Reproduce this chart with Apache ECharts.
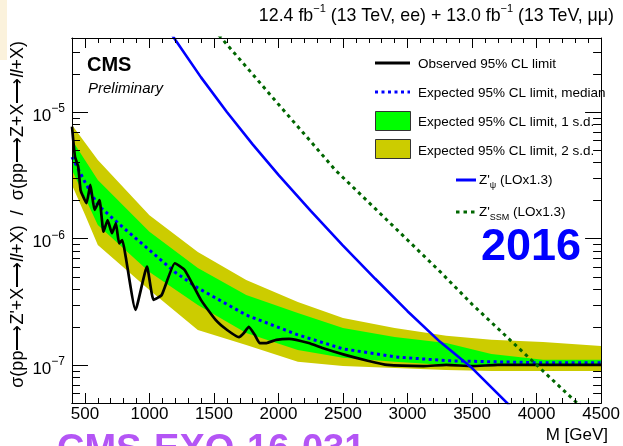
<!DOCTYPE html>
<html>
<head>
<meta charset="utf-8">
<script src="https://cdn.jsdelivr.net/npm/echarts@6/dist/echarts.min.js"></script>
<style>
  html, body { margin: 0; padding: 0; background: #ffffff; }
  #chart { width: 623px; height: 446px; }
</style>
</head>
<body>
<div id="chart"></div>
<script>
// Mass points (GeV) of the expected-limit bands
const bandMass  = [400, 500, 600, 1000, 1375, 1750, 2150, 2500, 2900, 3300, 3650, 4050, 4500];
const band2Up   = [7.89e-6, 5.74e-6, 4.17e-6, 1.53e-6, 7.82e-7, 4.70e-7, 3.15e-7, 2.35e-7, 1.96e-7, 1.70e-7, 1.58e-7, 1.52e-7, 1.41e-7];
const band1Up   = [6.01e-6, 4.17e-6, 2.90e-6, 1.13e-6, 5.85e-7, 3.57e-7, 2.58e-7, 1.96e-7, 1.66e-7, 1.49e-7, 1.22e-7, 1.10e-7, 1.10e-7];
const band1Down = [3.48e-6, 2.11e-6, 1.28e-6, 5.43e-7, 2.98e-7, 1.79e-7, 1.31e-7, 1.14e-7, 1.06e-7, 1.00e-7, 9.82e-8, 9.82e-8, 9.82e-8];
const band2Down = [2.65e-6, 1.55e-6, 8.88e-7, 3.92e-7, 1.89e-7, 1.44e-7, 1.06e-7, 9.82e-8, 9.47e-8, 9.13e-8, 8.97e-8, 8.97e-8, 8.97e-8];

// Expected (median) limit
const expMass   = [400, 500, 600, 800, 1000, 1200, 1375, 1750, 2150, 2500, 2900, 3300, 3650, 4050, 4500];
const expMedian = [4.41e-6, 2.80e-6, 1.84e-6, 1.21e-6, 8.11e-7, 5.40e-7, 4.06e-7, 2.48e-7, 1.73e-7, 1.34e-7, 1.16e-7, 1.08e-7, 1.06e-7, 1.04e-7, 1.04e-7];

// Observed limit
const obsMass  = [400, 423, 448, 466, 481, 512, 542, 575, 613, 644, 676, 710, 740, 765, 790, 816, 892, 981, 1032, 1095,
                  1197, 1273, 1399, 1513, 1602, 1694, 1732, 1770, 1816, 1854, 1907, 1983, 2082, 2234, 2341, 2516, 2691,
                  2843, 3124, 3300, 3500, 3700, 4000, 4250, 4500];
const obsLimit = [7.65e-6, 4.44e-6, 3.70e-6, 2.42e-6, 2.21e-6, 1.90e-6, 2.65e-6, 1.68e-6, 2.01e-6, 1.13e-6, 1.40e-6, 1.10e-6,
                  1.32e-6, 9.16e-7, 9.72e-7, 7.18e-7, 2.72e-7, 5.98e-7, 3.27e-7, 3.57e-7, 6.37e-7, 5.64e-7, 3.27e-7,
                  2.27e-7, 1.89e-7, 1.66e-7, 1.79e-7, 2.00e-7, 1.73e-7, 1.49e-7, 1.49e-7, 1.58e-7, 1.61e-7, 1.49e-7,
                  1.36e-7, 1.20e-7, 1.08e-7, 1.00e-7, 9.8e-8, 1.0e-7, 9.8e-8, 1.0e-7, 1.0e-7, 1.0e-7, 1.0e-7];

// Theory predictions (LO x 1.3)
const psiMass  = [1100, 1200, 1400, 1600, 1800, 2000, 2250, 2500, 2750, 3000, 3250, 3500, 3800];
const psiXsec  = [5.33e-5, 3.73e-5, 1.88e-5, 1.00e-5, 5.55e-6, 3.18e-6, 1.65e-6, 8.79e-7, 4.80e-7, 2.66e-7, 1.53e-7, 9.44e-8, 4.68e-8];
const ssmMass  = [1500, 1750, 2000, 2250, 2440, 2750, 3000, 3250, 3500, 3750, 4000, 4289, 4400];
const ssmXsec  = [4.49e-5, 2.28e-5, 1.15e-5, 5.85e-6, 3.48e-6, 1.72e-6, 9.73e-7, 5.50e-7, 3.02e-7, 1.74e-7, 1.00e-7, 5.28e-8, 4.13e-8];

// Axis ranges and ticks
const xMin = 400, xMax = 4500;
const yMin = 5.0e-8, yMax = 3.85e-5;
const xMajorTicks = [500, 1000, 1500, 2000, 2500, 3000, 3500, 4000, 4500];
const xMinorTicks = [];
for (let m = 500; m <= 4500; m += 100) xMinorTicks.push(m);
const yMinorTicks = [6e-8, 7e-8, 8e-8, 9e-8,
                     2e-7, 3e-7, 4e-7, 5e-7, 6e-7, 7e-7, 8e-7, 9e-7,
                     2e-6, 3e-6, 4e-6, 5e-6, 6e-6, 7e-6, 8e-6, 9e-6,
                     2e-5, 3e-5];

const FONT = 'Liberation Sans, Arial, Helvetica, sans-serif';
const YELLOW = '#cccc00';
const GREEN = '#00ff00';

const zip = (xs, ys) => xs.map((x, i) => [x, ys[i]]);

function bandSeries(upper, lower, color, z) {
  return {
    type: 'custom', z: z, silent: true,
    xAxisIndex: 0, yAxisIndex: 0,
    data: [[bandMass[0], upper[0]]],
    renderItem: function (params, api) {
      if (params.dataIndex !== 0) return null;
      const pts = [];
      for (let i = 0; i < bandMass.length; i++) pts.push(api.coord([bandMass[i], upper[i]]));
      for (let i = bandMass.length - 1; i >= 0; i--) pts.push(api.coord([bandMass[i], lower[i]]));
      return { type: 'polygon', shape: { points: pts }, style: { fill: color, stroke: null } };
    }
  };
}

function xAxisDef(position, ticks, len, withLabels) {
  return {
    type: 'value', position: position, min: xMin, max: xMax, z: 10,
    splitLine: { show: false },
    axisLine: { show: true, lineStyle: { color: '#000', width: 1 } },
    axisTick: { show: true, inside: true, length: len, customValues: ticks, lineStyle: { color: '#000', width: 1 } },
    axisLabel: withLabels ? {
      show: true, customValues: xMajorTicks, margin: 3, color: '#000',
      fontSize: 17, fontFamily: FONT,
      formatter: v => String(v)
    } : { show: false }
  };
}

function yAxisDef(position, withLabels) {
  return {
    type: 'log', logBase: 10, position: position, min: yMin, max: yMax, z: 10,
    splitLine: { show: false },
    minorTick: { show: false },
    axisLine: { show: true, lineStyle: { color: '#000', width: 1 } },
    axisTick: { show: true, inside: true, length: 16, lineStyle: { color: '#000', width: 1 } },
    axisLabel: withLabels ? {
      show: true, margin: 7, color: '#000', fontFamily: FONT,
      padding: [8, 0, 0, 0],
      formatter: function (v) {
        const l = Math.log10(v);
        const e = Math.round(l);
        if (Math.abs(l - e) > 1e-6) return '';
        return '{b|10}{s|\u2212' + (-e) + '}';
      },
      rich: {
        b: { fontSize: 17, fontFamily: FONT, color: '#000', lineHeight: 26 },
        s: { fontSize: 12, fontFamily: FONT, color: '#000', lineHeight: 12, verticalAlign: 'top' }
      }
    } : { show: false }
  };
}

const chart = echarts.init(document.getElementById('chart'), null, { renderer: 'canvas' });

const legendX0 = 375, legendX1 = 410, legendTextX = 418;
const legendText = (y, txt) => ({
  type: 'text', x: legendTextX, y: y, z: 100,
  style: { text: txt, fill: '#000', fontSize: 13.5, fontFamily: FONT,
           align: 'left', verticalAlign: 'middle', textAlign: 'left', textVerticalAlign: 'middle' }
});

chart.setOption({
  animation: false,
  backgroundColor: '#ffffff',
  grid: { left: 72, right: 12, top: 38, bottom: 43, containLabel: false },
  xAxis: [
    xAxisDef('bottom', xMajorTicks, 10, true),
    xAxisDef('bottom', xMinorTicks, 5, false),
    xAxisDef('top', xMajorTicks, 10, false),
    xAxisDef('top', xMinorTicks, 5, false)
  ],
  yAxis: [yAxisDef('left', true), yAxisDef('right', false)],
  series: [
    bandSeries(band2Up, band2Down, YELLOW, 1),
    bandSeries(band1Up, band1Down, GREEN, 2),
    {
      name: 'Expected', type: 'line', z: 3, showSymbol: false, silent: true,
      data: zip(expMass, expMedian),
      lineStyle: { color: '#0000ff', width: 3, type: [3, 3.5] }
    },
    {
      name: 'Observed', type: 'line', z: 4, showSymbol: false, silent: true,
      data: zip(obsMass, obsLimit), smooth: 0.15,
      lineStyle: { color: '#000000', width: 2.7 }
    },
    {
      name: 'Zpsi', type: 'line', z: 5, showSymbol: false, silent: true,
      data: zip(psiMass, psiXsec),
      lineStyle: { color: '#0000ff', width: 2.6 }
    },
    {
      name: 'Zssm', type: 'line', z: 5, showSymbol: false, silent: true,
      data: zip(ssmMass, ssmXsec),
      lineStyle: { color: '#006600', width: 3, type: [3.5, 4] }
    },
    {
      // minor ticks of the logarithmic axis on both vertical frame edges
      type: 'custom', z: 20, silent: true, clip: false,
      data: yMinorTicks.map(v => [xMin, v]),
      renderItem: function (params, api) {
        const v = api.value(1);
        const l = api.coord([xMin, v]);
        const r = api.coord([xMax, v]);
        const y = Math.round(l[1]) + 0.5;
        return {
          type: 'group',
          children: [
            { type: 'line', shape: { x1: l[0], y1: y, x2: l[0] + 8, y2: y }, style: { stroke: '#000', lineWidth: 1 } },
            { type: 'line', shape: { x1: r[0] - 8, y1: y, x2: r[0], y2: y }, style: { stroke: '#000', lineWidth: 1 } }
          ]
        };
      }
    }
  ],
  graphic: [
    { type: 'rect', shape: { x: 0, y: 0, width: 7, height: 60 }, style: { fill: '#fbf2dc' }, z: 0 },
    {
      type: 'text', x: 614, y: 16, z: 100,
      style: {
        text: '12.4 fb{s|\u22121} (13 TeV, ee) + 13.0 fb{s|\u22121} (13 TeV, \u03bc\u03bc)',
        fill: '#000', fontSize: 17.8, fontFamily: FONT, lineHeight: 26,
        align: 'right', verticalAlign: 'middle', textAlign: 'right', textVerticalAlign: 'middle',
        rich: { s: { fontSize: 11, fontFamily: FONT, fill: '#000', lineHeight: 12, verticalAlign: 'top' } }
      }
    },
    {
      type: 'text', x: 18, y: 41, rotation: Math.PI / 2, z: 100,
      style: {
        text: '\u03c3(pp\u27f6Z\'+X\u27f6{i|ll}+X)  /  \u03c3(pp\u27f6Z+X\u27f6{i|ll}+X)',
        fill: '#000', fontSize: 18, fontFamily: FONT,
        align: 'right', verticalAlign: 'middle', textAlign: 'right', textVerticalAlign: 'middle',
        rich: { i: { fontSize: 18, fontFamily: FONT, fontStyle: 'italic', fill: '#000' } }
      }
    },
    {
      type: 'text', x: 87, y: 65, z: 100,
      style: { text: 'CMS', fill: '#000', fontSize: 20, fontWeight: 'bold', fontFamily: FONT,
               align: 'left', verticalAlign: 'middle', textAlign: 'left', textVerticalAlign: 'middle' }
    },
    {
      type: 'text', x: 88, y: 89, z: 100,
      style: { text: 'Preliminary', fill: '#000', fontSize: 15, fontStyle: 'italic', fontFamily: FONT,
               align: 'left', verticalAlign: 'middle', textAlign: 'left', textVerticalAlign: 'middle' }
    },
    {
      type: 'text', x: 531, y: 248, z: 100,
      style: { text: '2016', fill: '#0000ff', fontSize: 45, fontWeight: 'bold', fontFamily: FONT,
               align: 'center', verticalAlign: 'middle', textAlign: 'center', textVerticalAlign: 'middle' }
    },
    {
      type: 'text', x: 608, y: 435, z: 100,
      style: { text: 'M [GeV]', fill: '#000', fontSize: 17, fontFamily: FONT,
               align: 'right', verticalAlign: 'middle', textAlign: 'right', textVerticalAlign: 'middle' }
    },
    {
      type: 'text', x: 57, y: 432, z: 100,
      style: { text: 'CMS-EXO-16-031', fill: '#b455f5', fontSize: 38, fontWeight: 'bold', fontFamily: FONT,
               align: 'left', verticalAlign: 'top', textAlign: 'left', textVerticalAlign: 'top' }
    },
    // legend
    { type: 'line', z: 100, shape: { x1: legendX0, y1: 63, x2: legendX1, y2: 63 }, style: { stroke: '#000', lineWidth: 3 } },
    legendText(64, 'Observed 95% CL limit'),
    { type: 'line', z: 100, shape: { x1: legendX0, y1: 92, x2: legendX1, y2: 92 }, style: { stroke: '#0000ff', lineWidth: 3, lineDash: [3, 3.5] } },
    legendText(93, 'Expected 95% CL limit, median'),
    { type: 'rect', z: 100, shape: { x: legendX0 + 0.5, y: 111.5, width: 35, height: 19 }, style: { fill: GREEN, stroke: '#333', lineWidth: 1 } },
    legendText(122, 'Expected 95% CL limit, 1 s.d.'),
    { type: 'rect', z: 100, shape: { x: legendX0 + 0.5, y: 139.5, width: 35, height: 19 }, style: { fill: YELLOW, stroke: '#333', lineWidth: 1 } },
    legendText(151, 'Expected 95% CL limit, 2 s.d.'),
    { type: 'line', z: 100, shape: { x1: 456, y1: 180, x2: 476, y2: 180 }, style: { stroke: '#0000ff', lineWidth: 3 } },
    {
      type: 'text', x: 479, y: 180, z: 100,
      style: {
        text: 'Z\'{u|\u03c8} (LOx1.3)', fill: '#000', fontSize: 13.5, fontFamily: FONT, lineHeight: 20,
        align: 'left', verticalAlign: 'middle', textAlign: 'left', textVerticalAlign: 'middle',
        rich: { u: { fontSize: 9, fontFamily: FONT, fill: '#000', lineHeight: 10, verticalAlign: 'bottom' } }
      }
    },
    { type: 'line', z: 100, shape: { x1: 456, y1: 212, x2: 476, y2: 212 }, style: { stroke: '#006600', lineWidth: 3, lineDash: [3.5, 4] } },
    {
      type: 'text', x: 479, y: 212, z: 100,
      style: {
        text: 'Z\'{u|SSM} (LOx1.3)', fill: '#000', fontSize: 13.5, fontFamily: FONT, lineHeight: 20,
        align: 'left', verticalAlign: 'middle', textAlign: 'left', textVerticalAlign: 'middle',
        rich: { u: { fontSize: 9, fontFamily: FONT, fill: '#000', lineHeight: 10, verticalAlign: 'bottom' } }
      }
    }
  ]
});
</script>
</body>
</html>
